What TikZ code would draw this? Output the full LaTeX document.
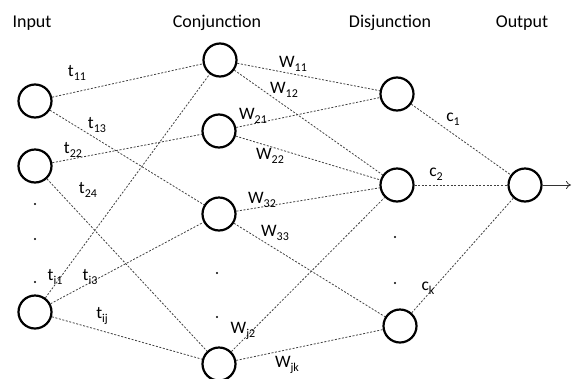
\documentclass[tikz,border=0pt]{standalone}
\usepackage{fontspec}
\usetikzlibrary{arrows.meta}
\setmainfont{Carlito}
\newcommand\lbsub[2]{#1\raisebox{-0.45ex}{\fontsize{12}{13}\selectfont #2}}
\tikzset{
  neuron/.style={circle,draw=black,line width=2.2pt,minimum size=33pt,inner sep=0pt},
  conn/.style={draw=black!75,line width=0.8pt,dash pattern=on 2pt off 1.6pt},
  title/.style={font=\fontsize{18}{20}\selectfont,anchor=base,inner sep=0pt},
  lbl/.style={font=\fontsize{17.5}{19}\selectfont,inner sep=0pt},
  dotmark/.style={circle,fill=black,inner sep=0pt,minimum size=2.2pt}
}
\begin{document}
\begin{tikzpicture}[x=1pt,y=-1pt]
\useasboundingbox (0,0) rectangle (572,378);
% titles
\node[title] (tin) at (32,27) {Input};
\node[title] (tcon) at (217,27) {Conjunction};
\node[title] (tdis) at (390,27) {Disjunction};
\node[title] (tout) at (522,27) {Output};
% nodes
\node[neuron] (I1) at (35,101) {};
\node[neuron] (I2) at (35,166) {};
\node[neuron] (I3) at (35,312) {};
\node[neuron] (C1) at (220,60) {};
\node[neuron] (C2) at (219,131) {};
\node[neuron] (C3) at (219,214) {};
\node[neuron] (C4) at (219,364) {};
\node[neuron] (D1) at (397,94) {};
\node[neuron] (D2) at (397,185) {};
\node[neuron] (D3) at (400,326) {};
\node[neuron] (O) at (525,185) {};
% dots
\node[dotmark] (di1) at (35,204) {};
\node[dotmark] (di2) at (35,239) {};
\node[dotmark] (di3) at (35,282) {};
\node[dotmark] (dc1) at (217,273) {};
\node[dotmark] (dc2) at (217,317) {};
\node[dotmark] (dd1) at (395,237) {};
\node[dotmark] (dd2) at (395,283) {};
% connections
\draw[conn] (I1) -- (C1);
\draw[conn] (I1) -- (C3);
\draw[conn] (I2) -- (C2);
\draw[conn] (I2) -- (C4);
\draw[conn] (I3) -- (C1);
\draw[conn] (I3) -- (C3);
\draw[conn] (I3) -- (C4);
\draw[conn] (C1) -- (D1);
\draw[conn] (C1) -- (D2);
\draw[conn] (C2) -- (D1);
\draw[conn] (C2) -- (D2);
\draw[conn] (C3) -- (D2);
\draw[conn] (C3) -- (D3);
\draw[conn] (C4) -- (D2);
\draw[conn] (C4) -- (D3);
\draw[conn] (D1) -- (O);
\draw[conn] (D2) -- (O);
\draw[conn] (D3) -- (O);
\coordinate (oend) at (571,185);
\draw[black!80,line width=0.8pt,-{To[length=5pt,width=8pt]}] (O) -- (oend);
% labels
\node[lbl] (l1) at (77,73) {\lbsub{t}{11}};
\node[lbl] (l2) at (97,125) {\lbsub{t}{13}};
\node[lbl] (l3) at (73,150) {\lbsub{t}{22}};
\node[lbl] (l4) at (88,190) {\lbsub{t}{24}};
\node[lbl] (l5) at (55,277) {\lbsub{t}{i1}};
\node[lbl] (l6) at (90,277) {\lbsub{t}{i3}};
\node[lbl] (l7) at (102,316) {\lbsub{t}{ij}};
\node[lbl] (m1) at (293,64) {\lbsub{W}{11}};
\node[lbl] (m2) at (284,90) {\lbsub{W}{12}};
\node[lbl] (m3) at (253,116) {\lbsub{W}{21}};
\node[lbl] (m4) at (270,156) {\lbsub{W}{22}};
\node[lbl] (m5) at (262,200) {\lbsub{W}{32}};
\node[lbl] (m6) at (275,233) {\lbsub{W}{33}};
\node[lbl] (m7) at (243,331) {\lbsub{W}{j2}};
\node[lbl] (m8) at (287,365) {\lbsub{W}{jk}};
\node[lbl] (c1) at (453,119) {\lbsub{c}{1}};
\node[lbl] (c2) at (436,174) {\lbsub{c}{2}};
\node[lbl] (ck) at (428,288) {\lbsub{c}{k}};
\end{tikzpicture}
\end{document}
